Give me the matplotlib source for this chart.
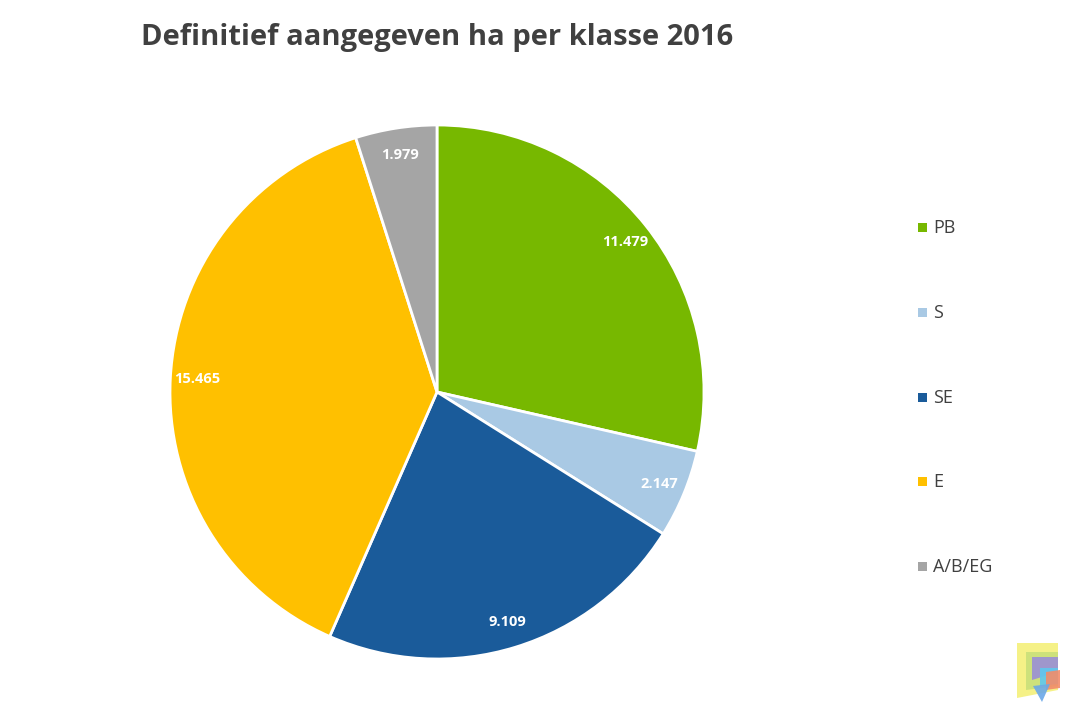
import numpy as np
import matplotlib.pyplot as plt
from matplotlib.patches import Polygon, Rectangle

# data
categories = ['PB', 'S', 'SE', 'E', 'A/B/EG']
values = [11.479, 2.147, 9.109, 15.465, 1.979]
value_labels = ['11.479', '2.147', '9.109', '15.465', '1.979']
colors = ['#77B800', '#A9C9E4', '#1A5B9A', '#FFC000', '#A5A5A5']

plt.rcParams['font.family'] = ['Open Sans', 'DejaVu Sans']

fig = plt.figure(figsize=(10.7, 7.13), dpi=100)
fig.patch.set_facecolor('white')

# pie axes: centre (437, 392) px, radius 267 px
ax = fig.add_axes([170 / 1070, 54 / 713, 534 / 1070, 534 / 713])
wedges, _ = ax.pie(values, colors=colors, startangle=90, counterclock=False,
                   wedgeprops=dict(edgecolor='white', linewidth=2))
ax.set_xlim(-1, 1)
ax.set_ylim(-1, 1)
ax.set_aspect('equal')
ax.axis('off')

# labels at inside end
for w, lab in zip(wedges, value_labels):
    ang = np.deg2rad((w.theta1 + w.theta2) / 2)
    r = 0.9
    ax.text(r * np.cos(ang), r * np.sin(ang), lab, ha='center', va='center',
            color='white', fontsize=10.5, fontweight='bold')

fig.text(437 / 1070, 1 - 38 / 713, 'Definitief aangegeven ha per klasse 2016',
         ha='center', va='center', fontsize=21, fontweight='bold', color='#404040')

# legend
leg_y = [228, 313, 398, 482, 567]
for c, name, y in zip(colors, categories, leg_y):
    fig.patches.append(Rectangle((918 / 1070, 1 - (y + 4) / 713), 9 / 1070, 9 / 713,
                                 transform=fig.transFigure, facecolor=c, edgecolor='none'))
    fig.text(933 / 1070, 1 - y / 713, name, ha='left', va='center',
             fontsize=13, color='#404040')

# small logo bottom right
def px(pts):
    return [(x / 1070, 1 - y / 713) for x, y in pts]

logo = [
    ([(1017, 643), (1058, 643), (1058, 690), (1017, 698)], '#F4F07A'),
    ([(1026, 652), (1058, 652), (1058, 686), (1026, 690)], '#C9E07A'),
    ([(1032, 657), (1058, 657), (1058, 672), (1032, 680)], '#9A8FD6'),
    ([(1040, 668), (1058, 668), (1058, 684), (1040, 686)], '#5FC7EE'),
    ([(1046, 672), (1060, 670), (1060, 688), (1046, 690)], '#F28C6A'),
    ([(1033, 686), (1050, 684), (1042, 702)], '#6AA8E8'),
]
for pts, c in logo:
    fig.patches.append(Polygon(px(pts), closed=True, transform=fig.transFigure,
                               facecolor=c, edgecolor='none', alpha=0.9))

fig.savefig('out.png', dpi=100, facecolor='white')
